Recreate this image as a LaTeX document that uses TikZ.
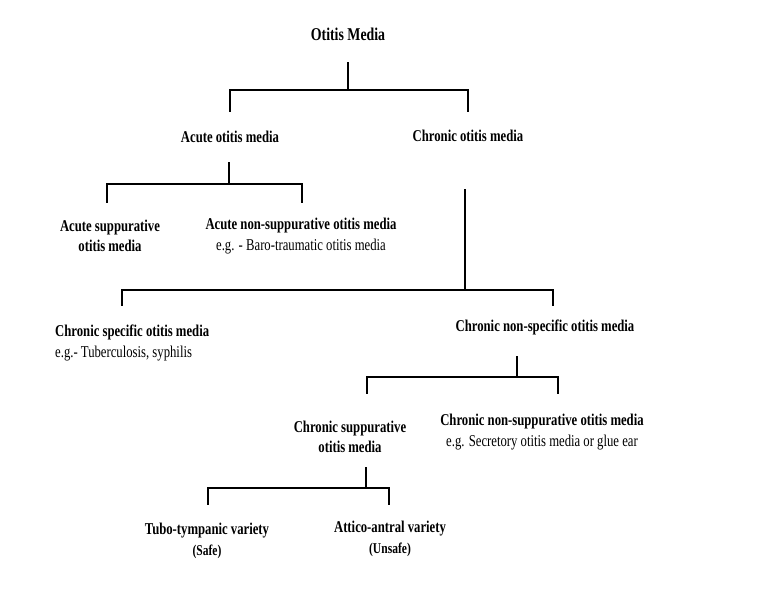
\documentclass[tikz,border=0pt]{standalone}
\usepackage{fontspec}
\setmainfont{Liberation Serif}[FakeStretch=0.77]
\usetikzlibrary{positioning}

\tikzset{
    term/.style={font=\bfseries\fontsize{16.5}{20.5}\selectfont, align=center, inner sep=0pt},
    fork/.style={line width=2.5pt, line cap=rect}
}
\newcommand{\eg}[1]{{\mdseries #1}}

\begin{document}
\begin{tikzpicture}[x=1pt, y=-1pt]
    \useasboundingbox[fill=white] (0,0) rectangle (764,611);

    % Root
    \node[term, font=\bfseries\fontsize{18}{20}\selectfont] (om) at (348, 34) {Otitis Media};

    % Acute / chronic
    \node[term] (aom) at (230, 137) {Acute otitis media};
    \node[term] (com) at (468, 136) {Chronic otitis media};

    % Acute branch
    \node[term] (asom) at (110, 236) {Acute suppurative\\otitis media};
    \node[term] (ansom) at (301, 236) {Acute non-suppurative otitis media\\\eg{e.g. - Baro-traumatic otitis media}};

    % Chronic branch
    \node[term, align=left, anchor=west] (csom) at (55, 343) {Chronic specific otitis media\\\eg{e.g.- Tuberculosis, syphilis}};
    \node[term] (cnsom) at (545, 327) {Chronic non-specific otitis media};

    % Non-specific branch
    \node[term] (csupp) at (350, 437) {Chronic suppurative\\otitis media};
    \node[term] (cnsupp) at (542, 432) {Chronic non-suppurative otitis media\\\eg{e.g. Secretory otitis media or glue ear}};

    % Suppurative branch
    \node[term] (tubo) at (207, 541) {Tubo-tympanic variety\\{\fontsize{15}{20}\selectfont (Safe)}};
    \node[term] (attico) at (390, 539) {Attico-antral variety\\{\fontsize{15}{20}\selectfont (Unsafe)}};

    % Fork points: stem top, bar, left end, right end
    \coordinate (om-s) at (348, 63);  \coordinate (om-b) at (348, 90);
    \coordinate (om-l) at (230, 111); \coordinate (om-r) at (468, 111);

    \coordinate (aom-s) at (229, 163); \coordinate (aom-b) at (229, 184);
    \coordinate (aom-l) at (107, 202); \coordinate (aom-r) at (302, 202);

    \coordinate (com-s) at (465, 190); \coordinate (com-b) at (465, 290);
    \coordinate (com-l) at (122, 305); \coordinate (com-r) at (553, 305);

    \coordinate (cns-s) at (517, 357); \coordinate (cns-b) at (517, 377);
    \coordinate (cns-l) at (367, 393); \coordinate (cns-r) at (558, 393);

    \coordinate (cs-s) at (366, 468); \coordinate (cs-b) at (366, 488);
    \coordinate (cs-l) at (208, 504); \coordinate (cs-r) at (389, 504);

    % Brackets
    \foreach \f in {om, aom, com, cns, cs} {
        \draw[fork] (\f-s) -- (\f-b);
        \draw[fork] (\f-l) |- (\f-b) -| (\f-r);
    }
\end{tikzpicture}
\end{document}
